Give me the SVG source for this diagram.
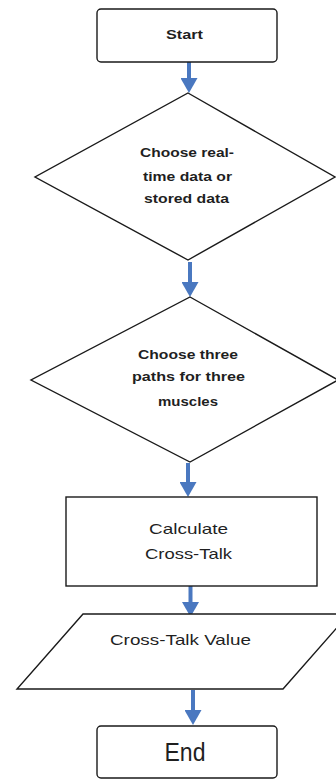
<svg xmlns="http://www.w3.org/2000/svg" width="336" height="780" viewBox="0 0 336 780">
<style>
.shape{fill:#ffffff;stroke:#1a1a1a;stroke-width:1.4;stroke-linejoin:miter}
.t{font-family:"Liberation Sans",Arial,sans-serif;fill:#1f1f1f;text-anchor:middle}
.b{font-weight:bold;font-size:13px}
.r{font-size:15px}
.conn{stroke:#4a78c0;stroke-width:4;fill:none}
</style>
<defs>
<marker id="ah" viewBox="0 0 15 17" refX="3" refY="8.5" markerWidth="15" markerHeight="17" markerUnits="userSpaceOnUse" orient="auto">
<path d="M0,0 L15,8.5 L0,17 Z" fill="#4a78c0"/>
</marker>
</defs>
<rect width="336" height="780" fill="#ffffff"/>
<g id="connectors">
<line class="conn" x1="189" y1="60" x2="189" y2="81" marker-end="url(#ah)"/>
<line class="conn" x1="190" y1="262" x2="190" y2="285" marker-end="url(#ah)"/>
<line class="conn" x1="188" y1="463" x2="188" y2="485" marker-end="url(#ah)"/>
<line class="conn" x1="190.5" y1="580" x2="190.5" y2="605" marker-end="url(#ah)"/>
<line class="conn" x1="193" y1="690" x2="193" y2="713" marker-end="url(#ah)"/>
</g>
<g id="start">
<rect class="shape" x="97" y="9" width="180" height="53" rx="4"/>
<text class="t b" x="184.5" y="39" font-size="14" textLength="37" lengthAdjust="spacingAndGlyphs">Start</text>
</g>
<g id="choose-data">
<polygon class="shape" points="188,93 335,177 188,260 35,177"/>
<text class="t b" x="187" y="157" textLength="94" lengthAdjust="spacingAndGlyphs">Choose real-</text>
<text class="t b" x="187.5" y="181" textLength="89" lengthAdjust="spacingAndGlyphs">time data or</text>
<text class="t b" x="186.5" y="203" textLength="85" lengthAdjust="spacingAndGlyphs">stored data</text>
</g>
<g id="choose-paths">
<polygon class="shape" points="190,297 338,380 190,462 31,380"/>
<text class="t b" x="188" y="359" textLength="100" lengthAdjust="spacingAndGlyphs">Choose three</text>
<text class="t b" x="188.5" y="381" textLength="113" lengthAdjust="spacingAndGlyphs">paths for three</text>
<text class="t b" x="188" y="406" textLength="60" lengthAdjust="spacingAndGlyphs">muscles</text>
</g>
<g id="calculate">
<rect class="shape" x="66" y="497" width="251" height="89"/>
<text class="t r" x="188.5" y="534" textLength="79" lengthAdjust="spacingAndGlyphs">Calculate</text>
<text class="t r" x="188.5" y="559" textLength="87" lengthAdjust="spacingAndGlyphs">Cross-Talk</text>
</g>
<g id="value">
<polygon class="shape" points="83,614 349,614 283,689 17,689"/>
<text class="t r" x="180.5" y="645" textLength="141" lengthAdjust="spacingAndGlyphs">Cross-Talk Value</text>
</g>
<g id="end">
<rect class="shape" x="97" y="726" width="180" height="52" rx="4"/>
<text class="t" x="185" y="761" font-size="25" textLength="41" lengthAdjust="spacingAndGlyphs">End</text>
</g>
</svg>
